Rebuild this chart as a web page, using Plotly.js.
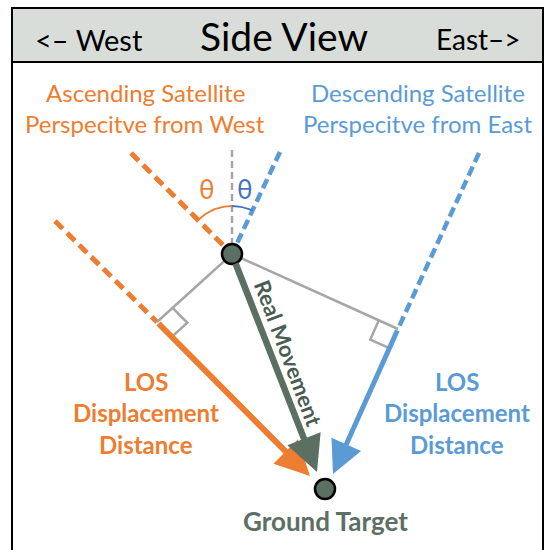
<!DOCTYPE html>
<html><head><meta charset="utf-8">
<script src="https://cdn.plot.ly/plotly-3.0.1.min.js"></script>
<style>html,body{margin:0;padding:0;background:#fff}#plot{width:545px;height:550px}</style>
</head><body><div id="plot"></div>
<script>
// ---- diagram data (pixel-space coordinates of the side view) ----
const satellite   = [232, 254];
const groundPt    = [325, 489];
const verticalTop = [232, 150];
const ascNearTop  = [131, 153];
const descNearTop = [280, 152];
const ascFarTop   = [55, 221];
const ascFoot     = [157, 322];
const ascTip      = [310, 476];
const descFarTop  = [479, 153];
const descFoot    = [398, 329];
const descTip     = [333, 474];
const realTip     = [317, 472];
const headerLabels = ["<– West", "Side View", "East–>"];
const ascLabel  = ["Ascending Satellite", "Perspecitve from West"];
const descLabel = ["Descending Satellite", "Perspecitve from East"];
const losLabel  = ["LOS", "Displacement", "Distance"];
const realLabel = "Real Movement";
const groundLabel = "Ground Target";
const thetaLabel = "θ";

const ORANGE = "#ED7D31", BLUE = "#5B9BD5", DBLUE = "#4472C4", GRAY = "#A6A6A6", GREEN = "#5B6F63";
const FONT = "Lato, 'Open Sans', sans-serif";

function seg(a, b, color, width, dash) {
  return {x:[a[0], b[0]], y:[a[1], b[1]], mode:"lines", hoverinfo:"skip",
          line:{color:color, width:width, dash:dash||"solid"}};
}
function unit(a, b){ const dx=b[0]-a[0], dy=b[1]-a[1], L=Math.hypot(dx,dy); return [dx/L, dy/L]; }
function rightAngle(foot, towardSat, alongLine, s) {
  const p1=[foot[0]+towardSat[0]*s, foot[1]+towardSat[1]*s];
  const p3=[foot[0]+alongLine[0]*s, foot[1]+alongLine[1]*s];
  const p2=[p1[0]+alongLine[0]*s, p1[1]+alongLine[1]*s];
  return {x:[p1[0],p2[0],p3[0]], y:[p1[1],p2[1],p3[1]], mode:"lines", hoverinfo:"skip", line:{color:GRAY, width:2.5}};
}
function arc(center, fromPt, toPt, r, color) {
  const a1=Math.atan2(fromPt[1]-center[1], fromPt[0]-center[0]);
  const a2=Math.atan2(toPt[1]-center[1], toPt[0]-center[0]);
  const xs=[], ys=[];
  for (let i=0;i<=30;i++){ const a=a1+(a2-a1)*i/30; xs.push(center[0]+r*Math.cos(a)); ys.push(center[1]+r*Math.sin(a)); }
  return {x:xs, y:ys, mode:"lines", hoverinfo:"skip", line:{color:color, width:1.8}};
}

const traces = [
  seg(verticalTop, satellite, GRAY, 2.5, "7px,4px"),
  seg(ascNearTop, satellite, ORANGE, 5, "11px,6px"),
  seg(descNearTop, satellite, BLUE, 4.5, "10px,5px"),
  seg(ascFarTop, ascFoot, ORANGE, 5, "11px,6px"),
  seg(descFarTop, descFoot, BLUE, 4.5, "10px,5px"),
  seg(satellite, ascFoot, GRAY, 2.5),
  seg(satellite, descFoot, GRAY, 2.5),
  rightAngle(ascFoot, unit(ascFoot, satellite), unit(ascFoot, ascTip), 21),
  rightAngle(descFoot, unit(descFoot, satellite), unit(descFoot, descTip), 21),
  arc(satellite, ascNearTop, verticalTop, 48, ORANGE),
  arc(satellite, verticalTop, descNearTop, 48, DBLUE),
  {x:[satellite[0], groundPt[0]], y:[satellite[1], groundPt[1]], mode:"markers", hoverinfo:"skip",
   marker:{size:20, color:GREEN, line:{color:"#000", width:2.5}}}
];

function arrow(from, to, color, width, size) {
  return {x:to[0], y:to[1], ax:from[0], ay:from[1], xref:"x", yref:"y", axref:"x", ayref:"y",
          showarrow:true, arrowhead:2, arrowsize:size, arrowwidth:width, arrowcolor:color, text:"", standoff:0};
}
function txt(x, y, t, size, color, bold, extra) {
  return Object.assign({x:x, y:y, xref:"x", yref:"y", showarrow:false,
    text: bold ? "<b>"+t+"</b>" : t, font:{family:FONT, size:size, color:color}}, extra||{});
}

const annotations = [
  arrow(ascFoot, ascTip, ORANGE, 6, 1.15),
  arrow(descFoot, descTip, BLUE, 5, 1.3),
  arrow([satellite[0]+3, satellite[1]+8], realTip, GREEN, 6.5, 1.1),
  txt(89, 39, headerLabels[0], 29, "#000"),
  txt(284, 36, headerLabels[1], 39, "#000"),
  txt(478, 39, headerLabels[2], 28, "#000"),
  txt(145, 92, ascLabel[0], 24, ORANGE),
  txt(145, 123, ascLabel[1], 24, ORANGE),
  txt(418, 92, descLabel[0], 24, BLUE),
  txt(418, 123, descLabel[1], 24, BLUE),
  txt(207, 189, thetaLabel, 26, ORANGE),
  txt(245, 189, thetaLabel, 26, DBLUE),
  txt(146, 381, losLabel[0], 24, ORANGE, true),
  txt(146, 412, losLabel[1], 24, ORANGE, true),
  txt(146, 444, losLabel[2], 24, ORANGE, true),
  txt(457, 381, losLabel[0], 24, BLUE, true),
  txt(457, 412, losLabel[1], 24, BLUE, true),
  txt(457, 444, losLabel[2], 24, BLUE, true),
  txt(289, 353, realLabel, 22, "#4A5C52", true, {textangle:69.5}),
  txt(325, 521, groundLabel, 26, GREEN, true)
];

const layout = {
  width:545, height:550, margin:{l:0,r:0,t:0,b:0}, showlegend:false,
  paper_bgcolor:"#fff", plot_bgcolor:"#fff",
  xaxis:{range:[0,545], visible:false, fixedrange:true},
  yaxis:{range:[550,0], visible:false, fixedrange:true},
  shapes:[
    {type:"rect", xref:"x", yref:"y", x0:12, y0:8, x1:543, y1:62, fillcolor:"#D9DDD9", line:{color:"#000", width:2}, layer:"below"},
    {type:"rect", xref:"x", yref:"y", x0:12, y0:8, x1:543, y1:556, fillcolor:"rgba(0,0,0,0)", line:{color:"#000", width:2}, layer:"below"}
  ],
  annotations:annotations
};
Plotly.newPlot("plot", traces, layout, {staticPlot:true, displayModeBar:false});
</script></body></html>
